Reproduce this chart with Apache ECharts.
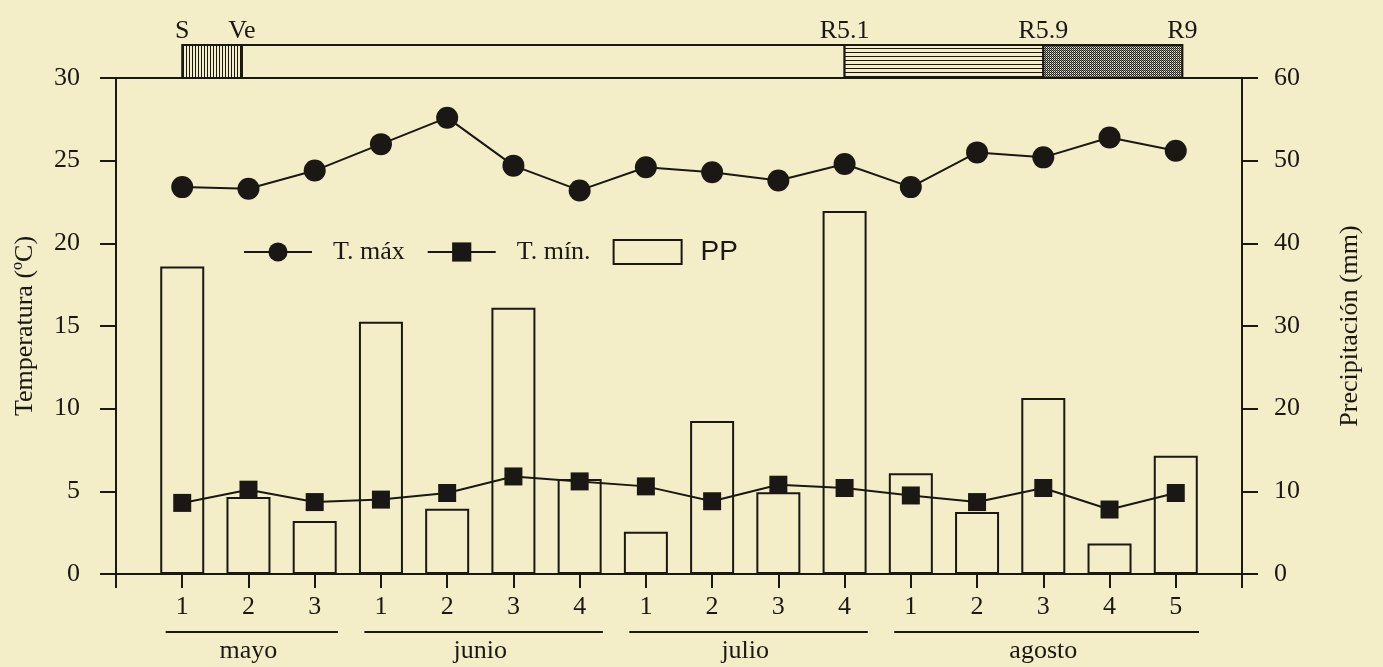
<!DOCTYPE html>
<html>
<head>
<meta charset="utf-8">
<script src="https://cdn.jsdelivr.net/npm/echarts@6/dist/echarts.min.js"></script>
<style>
  html, body { margin: 0; padding: 0; background: #f4eec8; }
  #main { width: 1383px; height: 667px; }
</style>
</head>
<body>
<div id="main"></div>
<script>
// semanas (decenas) por mes
const weekLabels = ['1', '2', '3', '1', '2', '3', '4', '1', '2', '3', '4', '1', '2', '3', '4', '5'];
const monthNames = ['mayo', 'junio', 'julio', 'agosto'];
const monthFirst = [0, 3, 7, 11];
const monthLast = [2, 6, 10, 15];

// temperaturas (ºC) y precipitación (mm)
const tMax = [23.4, 23.3, 24.4, 26.0, 27.6, 24.7, 23.2, 24.6, 24.3, 23.8, 24.8, 23.4, 25.5, 25.2, 26.4, 25.6];
const tMin = [4.3, 5.1, 4.35, 4.5, 4.9, 5.9, 5.6, 5.3, 4.4, 5.4, 5.2, 4.75, 4.35, 5.2, 3.9, 4.9];
const pp = [37.2, 9.3, 6.4, 30.5, 7.9, 32.2, 11.5, 5.1, 18.5, 9.9, 43.9, 12.2, 7.5, 21.3, 3.7, 14.3];

// fases fenológicas (posición en el eje de semanas)
const stageNames = ['S', 'Ve', 'R5.1', 'R5.9', 'R9'];
const stagePos = [0, 0.9, 10, 13, 15.1];

const ink = '#1b1714';
const paper = '#f4eec8';
const serif = '"Liberation Serif", "DejaVu Serif", serif';

// patrones de relleno para la barra de fases
function makePattern(w, h, draw) {
  const c = document.createElement('canvas');
  c.width = w; c.height = h;
  const ctx = c.getContext('2d');
  ctx.fillStyle = paper;
  ctx.fillRect(0, 0, w, h);
  draw(ctx);
  return { image: c, repeat: 'repeat' };
}
const vertHatch = makePattern(3, 4, ctx => { ctx.fillStyle = ink; ctx.fillRect(0, 0, 1, 4); });
const horizHatch = makePattern(4, 4, ctx => { ctx.fillStyle = ink; ctx.fillRect(0, 0, 4, 1); });
const stipple = makePattern(2, 2, ctx => {
  ctx.fillStyle = '#222'; ctx.fillRect(0, 0, 1, 1); ctx.fillRect(1, 1, 1, 1);
  ctx.fillStyle = '#888'; ctx.fillRect(1, 0, 1, 1);
});
const stageFills = [vertHatch, 'transparent', horizHatch, stipple];

const chart = echarts.init(document.getElementById('main'));

const gridLeft = 116, gridRight = 141;

const option = {
  backgroundColor: paper,
  animation: false,
  textStyle: { fontFamily: serif, color: ink },
  legend: {
    left: 238,
    top: 233,
    itemWidth: 68,
    itemHeight: 24,
    itemGap: 22,
    textStyle: { fontFamily: serif, fontSize: 26, color: ink, padding: [0, 0, 0, 16] },
    data: [
      { name: 'T. máx' },
      { name: 'T. mín.' },
      {
        name: 'PP',
        icon: 'rect',
        itemStyle: { color: 'transparent', borderColor: ink, borderWidth: 2 },
        textStyle: { fontFamily: '"Liberation Sans", Arial, sans-serif', fontSize: 28, padding: [0, 0, 0, 14] }
      }
    ]
  },
  grid: [
    { left: gridLeft, right: gridRight, top: 78, bottom: 93, show: true, borderColor: ink, borderWidth: 2, backgroundColor: 'transparent' },
    { left: gridLeft, right: gridRight, top: 45, height: 33 },
    { left: gridLeft, right: gridRight, top: 632, height: 30 }
  ],
  xAxis: [
    {
      type: 'value', gridIndex: 0, min: -1, max: 16, interval: 1,
      axisLine: { show: true, onZero: false, lineStyle: { color: ink, width: 2 } },
      axisTick: { show: true, length: 14, lineStyle: { color: ink, width: 2 } },
      axisLabel: {
        margin: 20, fontSize: 26, fontFamily: serif, color: ink,
        formatter: v => weekLabels[v] || ''
      },
      splitLine: { show: false }
    },
    { type: 'value', gridIndex: 1, min: -1, max: 16, show: false },
    { type: 'value', gridIndex: 2, min: -1, max: 16, show: false }
  ],
  yAxis: [
    {
      type: 'value', gridIndex: 0, min: 0, max: 30, interval: 5,
      name: 'Temperatura (ºC)', nameLocation: 'middle', nameRotate: 90, nameGap: 78,
      nameTextStyle: { fontFamily: serif, fontSize: 26, color: ink },
      axisLine: { show: true, onZero: false, lineStyle: { color: ink, width: 2 } },
      axisTick: { show: true, length: 16, lineStyle: { color: ink, width: 2 } },
      axisLabel: { margin: 36, fontSize: 26, fontFamily: serif, color: ink },
      splitLine: { show: false }
    },
    {
      type: 'value', gridIndex: 0, min: 0, max: 60, interval: 10, position: 'right',
      name: 'Precipitación (mm)', nameLocation: 'middle', nameRotate: 90, nameGap: 95,
      nameTextStyle: { fontFamily: serif, fontSize: 26, color: ink },
      axisLine: { show: true, onZero: false, lineStyle: { color: ink, width: 2 } },
      axisTick: { show: true, length: 16, lineStyle: { color: ink, width: 2 } },
      axisLabel: { margin: 32, fontSize: 26, fontFamily: serif, color: ink },
      splitLine: { show: false }
    },
    { type: 'value', gridIndex: 1, min: 0, max: 1, show: false },
    { type: 'value', gridIndex: 2, min: 0, max: 1, show: false }
  ],
  series: [
    {
      name: 'PP',
      type: 'bar',
      xAxisIndex: 0, yAxisIndex: 1,
      barWidth: 44,
      z: 1,
      itemStyle: { color: 'transparent', borderColor: ink, borderWidth: 2 },
      data: pp.map((v, i) => [i, v])
    },
    {
      name: 'T. máx',
      type: 'line',
      xAxisIndex: 0, yAxisIndex: 0,
      z: 3,
      symbol: 'circle', symbolSize: 22,
      lineStyle: { color: ink, width: 2 },
      itemStyle: { color: ink },
      data: tMax.map((v, i) => [i, v])
    },
    {
      name: 'T. mín.',
      type: 'line',
      xAxisIndex: 0, yAxisIndex: 0,
      z: 3,
      symbol: 'rect', symbolSize: 18,
      lineStyle: { color: ink, width: 2 },
      itemStyle: { color: ink },
      data: tMin.map((v, i) => [i, v])
    },
    {
      // barra de fases fenológicas
      type: 'custom',
      xAxisIndex: 1, yAxisIndex: 2,
      silent: true,
      data: stagePos.map((p, i) => [p, i]),
      renderItem: function (params, api) {
        const i = params.dataIndex;
        const p0 = api.coord([api.value(0), 1]);
        const children = [];
        if (i < stagePos.length - 1) {
          const p1 = api.coord([stagePos[i + 1], 0]);
          children.push({
            type: 'rect',
            shape: { x: p0[0], y: p0[1], width: p1[0] - p0[0], height: p1[1] - p0[1] },
            style: { fill: stageFills[i], stroke: ink, lineWidth: 2 }
          });
        }
        children.push({
          type: 'text',
          style: {
            text: stageNames[i], x: p0[0], y: p0[1] - 14,
            align: 'center', verticalAlign: 'middle',
            fontFamily: serif, fontSize: 26, fill: ink
          }
        });
        return { type: 'group', children: children };
      }
    },
    {
      // meses bajo el eje
      type: 'custom',
      xAxisIndex: 2, yAxisIndex: 3,
      silent: true,
      data: monthNames.map((m, i) => [monthFirst[i], monthLast[i]]),
      renderItem: function (params, api) {
        const i = params.dataIndex;
        const a = api.coord([api.value(0) - 0.25, 1]);
        const b = api.coord([api.value(1) + 0.35, 1]);
        const mid = api.coord([(api.value(0) + api.value(1)) / 2, 1]);
        return {
          type: 'group',
          children: [
            { type: 'line', shape: { x1: a[0], y1: a[1], x2: b[0], y2: b[1] }, style: { stroke: ink, lineWidth: 2 } },
            {
              type: 'text',
              style: {
                text: monthNames[i], x: mid[0], y: a[1] + 19,
                align: 'center', verticalAlign: 'middle',
                fontFamily: serif, fontSize: 26, fill: ink
              }
            }
          ]
        };
      }
    }
  ]
};

chart.setOption(option);
</script>
</body>
</html>
